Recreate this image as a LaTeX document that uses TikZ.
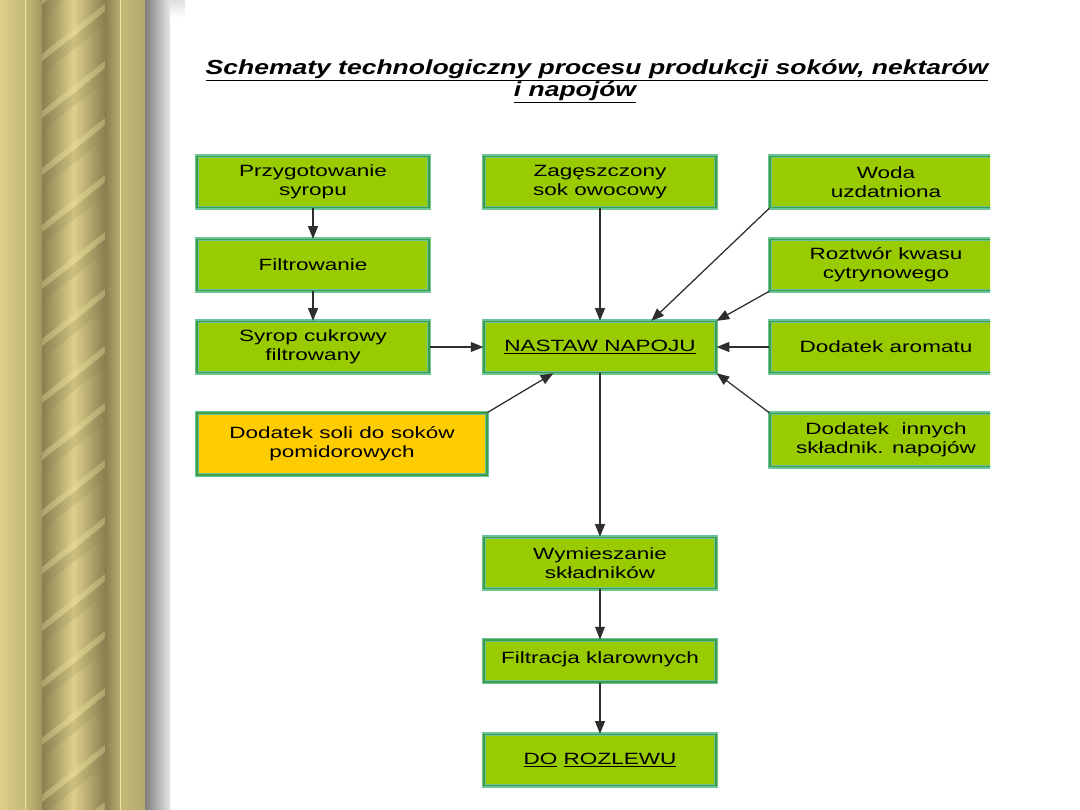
\documentclass[tikz,border=0pt]{standalone}
\usepackage{fontspec}
\setmainfont{Liberation Sans}
\newfontfamily\boxfont[FakeStretch=1.38]{Liberation Sans}
\newfontfamily\headfont[FakeStretch=1.3]{Liberation Sans}
\usetikzlibrary{arrows.meta,calc,positioning}
\definecolor{boxgreen}{HTML}{99CC00}
\definecolor{boxyellow}{HTML}{FFCC00}
\definecolor{boxedge}{HTML}{6CC49A}
\definecolor{boxinner}{HTML}{3E9E48}
\definecolor{arrowgray}{HTML}{2E2E2E}
\definecolor{goldlight}{HTML}{DDD08B}
\definecolor{goldmid}{HTML}{C4B877}
\definecolor{golddark}{HTML}{8A7F50}
\definecolor{goldline}{HTML}{EFE3A0}
\tikzset{
    process box/.style={
        rectangle,
        fill=boxgreen,
        draw=boxedge,
        double=boxinner,
        double distance=1.2pt,
        line width=0.8pt,
        minimum width=5.8cm,
        minimum height=1.28cm,
        inner sep=0pt,
        align=center,
        font=\boxfont\fontsize{11.6}{13.5}\selectfont
    },
    flow arrow/.style={
        draw=arrowgray,
        line width=0.9pt,
        -{Triangle[length=9pt,width=7pt]}
    },
    title text/.style={
        anchor=base,
        inner sep=0pt,
        font=\headfont\fontsize{14.5}{17}\selectfont\bfseries\itshape
    }
}

\begin{document}
\begin{tikzpicture}[x=0.025cm,y=-0.025cm]
    \useasboundingbox (0,0) rectangle (1080,810);
    % decorative column on the left
    \shade[left color=goldlight, right color=goldmid] (0,0) rectangle (25,810);
    \shade[left color=goldmid, right color=golddark!60!goldmid] (26,0) rectangle (42,810);
    \shade[left color=golddark, right color=golddark, middle color=goldlight] (42,0) rectangle (105,810);
    \begin{scope}
        \clip (42,0) rectangle (105,810);
        \foreach \s in {-60,-3,...,880}{
            \fill[golddark, opacity=0.18] (42,\s+8) -- (105,\s-42) -- (105,\s-30) -- (42,\s+20) -- cycle;
            \fill[goldline, opacity=0.35] (42,\s) -- (105,\s-50) -- (105,\s-43) -- (42,\s+7) -- cycle;
        }
    \end{scope}
    \shade[left color=golddark, right color=goldmid!80!golddark] (105,0) rectangle (120,810);
    \shade[left color=goldmid, right color=goldmid!92!black] (121,0) rectangle (145,810);
    \fill[goldline] (25,0) rectangle (26,810);
    \fill[goldline] (120,0) rectangle (121,810);
    \shade[left color=black!50, right color=black!10] (145,0) rectangle (170,810);
    \shade[top color=black!12, bottom color=white] (170,0) rectangle (185,18);

    % title
    \node[title text] (title1) at (597,74) {\underline{Schematy technologiczny procesu produkcji soków, nektarów}};
    \node[title text] (title2) at (575,96) {\underline{i napojów}};

    % left column
    \node[process box] (przygotowanie) at (313,182) {Przygotowanie\\syropu};
    \node[process box] (filtrowanie) at (313,265) {Filtrowanie};
    \node[process box] (syrop) at (313,347) {Syrop cukrowy\\filtrowany};
    \node[process box, fill=boxyellow, minimum width=7.25cm, minimum height=1.55cm] (sol) at (342,444) {Dodatek soli do soków\\pomidorowych};

    % middle column
    \node[process box] (koncentrat) at (600,182) {Zagęszczony\\sok owocowy};
    \node[process box] (nastaw) at (600,347) {\underline{NASTAW NAPOJU}};
    \node[process box] (wymieszanie) at (600,563) {Wymieszanie\\składników};
    \node[process box, minimum height=1.05cm] (filtracja) at (600,661) {\raisebox{5pt}{Filtracja klarownych}};
    \node[process box] (rozlew) at (600,760) {\underline{DO} \underline{ROZLEWU}};

    % right column, cut at the page edge
    \begin{scope}
        \clip (0,0) rectangle (990,810);
        \node[process box] (woda) at (886,182) {Woda\\uzdatniona};
        \node[process box] (kwas) at (886,265) {Roztwór kwasu\\cytrynowego};
        \node[process box] (aromat) at (886,347) {Dodatek aromatu};
        \node[process box, minimum height=1.33cm] (inne) at (886,440) {Dodatek~ innych\\składnik. napojów};
    \end{scope}

    % connectors
    \draw[flow arrow] (przygotowanie) -- (filtrowanie);
    \draw[flow arrow] (filtrowanie) -- (syrop);
    \draw[flow arrow] (syrop.east) -- (syrop.east -| nastaw.west);
    \draw[flow arrow] (koncentrat) -- (nastaw);
    \draw[flow arrow] (woda.south west) -- ($(nastaw.north west)!0.72!(nastaw.north east)$);
    \draw[flow arrow] (kwas.south west) -- (nastaw.north east);
    \draw[flow arrow] (aromat.west) -- (aromat.west -| nastaw.east);
    \draw[flow arrow] (inne.north west) -- (nastaw.south east);
    \draw[flow arrow] (sol.north east) -- ($(nastaw.south west)!0.3!(nastaw.south east)$);
    \draw[flow arrow] (nastaw) -- (wymieszanie);
    \draw[flow arrow] (wymieszanie) -- (filtracja);
    \draw[flow arrow] (filtracja) -- (rozlew);
\end{tikzpicture}
\end{document}
